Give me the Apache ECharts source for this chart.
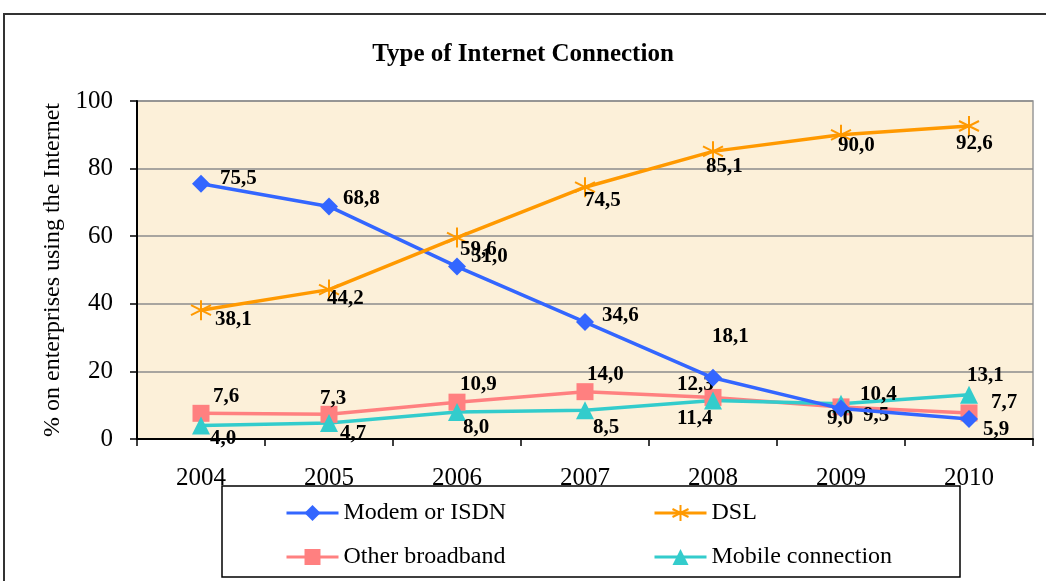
<!DOCTYPE html>
<html>
<head>
<meta charset="utf-8">
<script src="https://cdn.jsdelivr.net/npm/echarts@6/dist/echarts.min.js"></script>
<style>
html, body { margin:0; padding:0; background:#fff; }
#chart { width:1046px; height:581px; }
</style>
</head>
<body>
<div id="chart"></div>
<script>
const years = ['2004','2005','2006','2007','2008','2009','2010']
const modem = [75.5, 68.8, 51.0, 34.6, 18.1, 9.0, 5.9]
const dsl = [38.1, 44.2, 59.6, 74.5, 85.1, 90.0, 92.6]
const otherBroadband = [7.6, 7.3, 10.9, 14.0, 12.3, 9.5, 7.7]
const mobile = [4.0, 4.7, 8.0, 8.5, 11.4, 10.4, 13.1]
const yTicks = [0, 20, 40, 60, 80, 100]

const serif = '"Liberation Serif", "DejaVu Serif", serif'

// where each value label sits relative to its point (dx, dy)
const labelShift = {
  modem:[[19,-5],[14,-8],[14,-10],[17,-6],[-1,-41],[-14,10],[14,11]],
  dsl:[[14,9],[-2,9],[3,12],[-1,13],[-7,15],[-3,11],[-13,18]],
  other:[[12,-17],[-9,-16],[3,-18],[2,-17],[-36,-13],[22,9],[22,-10]],
  mobile:[[9,13],[11,10],[6,16],[8,17],[-36,18],[19,-9],[-2,-19]]
}

function withLabels(values, shifts){
  return values.map((v,i)=>({
    value:v,
    label:{offset:shifts[i]}
  }))
}

const valueLabel = {
  show:true,
  position:'inside',
  align:'left',
  verticalAlign:'middle',
  fontFamily:serif,
  fontWeight:'bold',
  fontSize:21,
  color:'#000',
  formatter:p=>p.value.toFixed(1).replace('.', ',')
}

const asterisk = 'path://M5,0L5,10M0.7,2.5L9.3,7.5M0.7,7.5L9.3,2.5'

const legendBase = {
  orient:'vertical',top:496,itemGap:20,itemWidth:52,itemHeight:20,
  lineStyle:{width:3},
  textStyle:{fontFamily:serif,fontSize:24,color:'#000'}
}

const option = {
  animation:false,
  title:{
    text:'Type of Internet Connection',
    left:'center',
    top:37,
    textStyle:{fontFamily:serif,fontWeight:'bold',fontSize:25,color:'#000'}
  },
  graphic:[
    {type:'rect',shape:{x:4,y:14,width:1100,height:700},style:{fill:'none',stroke:'#333',lineWidth:2},z:-10},
    {type:'rect',shape:{x:222,y:486,width:738,height:91},style:{fill:'#fff',stroke:'#000',lineWidth:1.5},z:-5}
  ],
  legend:[
    Object.assign({left:280,data:['Modem or ISDN','Other broadband']},legendBase),
    Object.assign({left:648,data:['DSL','Mobile connection']},legendBase)
  ],
  grid:{
    left:137,right:13,top:101,bottom:142,
    show:true,backgroundColor:'#FCF0D9',borderColor:'#999',borderWidth:1.5
  },
  xAxis:{
    type:'category',
    data:years,
    boundaryGap:true,
    axisLine:{lineStyle:{color:'#000',width:2}},
    axisTick:{show:true,length:7,lineStyle:{color:'#000',width:1.5}},
    axisLabel:{fontFamily:serif,fontSize:25,color:'#000',margin:27}
  },
  yAxis:{
    type:'value',
    min:yTicks[0],
    max:yTicks[yTicks.length-1],
    interval:20,
    name:'% on enterprises using the Internet',
    nameLocation:'middle',
    nameGap:67,
    nameTextStyle:{fontFamily:serif,fontSize:24,color:'#000'},
    axisLine:{show:true,lineStyle:{color:'#000',width:2}},
    axisTick:{show:true,length:7,lineStyle:{color:'#000',width:1.5}},
    axisLabel:{fontFamily:serif,fontSize:25,color:'#000',margin:24},
    splitLine:{lineStyle:{color:'#8c8c8c',width:1.5}}
  },
  series:[
    {
      name:'Modem or ISDN',type:'line',
      data:withLabels(modem,labelShift.modem),
      symbol:'diamond',symbolSize:18,
      lineStyle:{color:'#3366FF',width:3.5},
      itemStyle:{color:'#3366FF'},
      label:valueLabel,z:3
    },
    {
      name:'DSL',type:'line',
      data:withLabels(dsl,labelShift.dsl),
      symbol:asterisk,symbolSize:20,
      lineStyle:{color:'#FF9900',width:3.5},
      itemStyle:{color:'#FF9900',borderColor:'#FF9900',borderWidth:2},
      label:valueLabel,z:3
    },
    {
      name:'Other broadband',type:'line',
      data:withLabels(otherBroadband,labelShift.other),
      symbol:'rect',symbolSize:17,
      lineStyle:{color:'#FF8080',width:3.5},
      itemStyle:{color:'#FF8080'},
      label:valueLabel,z:2
    },
    {
      name:'Mobile connection',type:'line',
      data:withLabels(mobile,labelShift.mobile),
      symbol:'triangle',symbolSize:18,
      lineStyle:{color:'#33CCCC',width:3.5},
      itemStyle:{color:'#33CCCC'},
      label:valueLabel,z:2
    }
  ]
}

const chart = echarts.init(document.getElementById('chart'))
chart.setOption(option)
window.addEventListener('resize',()=>chart.resize())
</script>
</body>
</html>
